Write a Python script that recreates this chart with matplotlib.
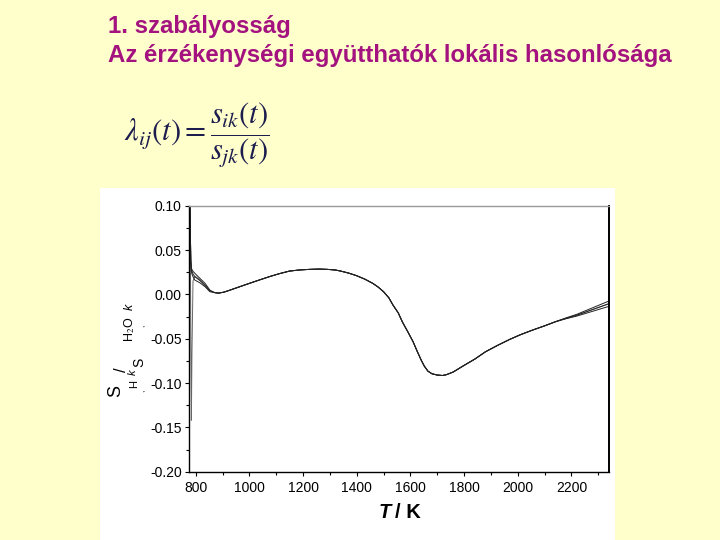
import matplotlib
matplotlib.use('Agg')
import matplotlib.pyplot as plt
from matplotlib.patches import Rectangle
from matplotlib.ticker import MultipleLocator, FormatStrFormatter

##########
# Data
##########

# start of the curves (T < 880 K), where they split apart
T_start = [778, 780, 782, 784, 786, 790, 797, 816, 835, 853]
start_1 = [0.12, 0.06, -0.05, -0.142, -0.07, 0.015, 0.0205, 0.0165, 0.0105, 0.004]
start_2 = [0.12, 0.07, 0.038, 0.030, 0.028, 0.026, 0.0237, 0.018, 0.0124, 0.0048]
start_3 = [0.12, 0.07, 0.038, 0.028, 0.026, 0.023, 0.0199, 0.0155, 0.0100, 0.0040]
start_4 = [0.12, 0.07, 0.038, 0.026, 0.023, 0.020, 0.0161, 0.013, 0.0086, 0.0030]

# common part, all curves lie on top of each other
T_mid = [870, 885, 905, 925, 960, 1000, 1040, 1075, 1110, 1150, 1190, 1225, 1260,
         1290, 1320, 1340, 1370, 1400, 1430, 1460, 1480, 1500, 1520, 1535, 1555,
         1570, 1590, 1610, 1625, 1640, 1652, 1665, 1680, 1700, 1720, 1735, 1760,
         1795, 1840, 1880, 1925, 1970, 2010, 2055, 2100, 2140]
y_mid = [0.0020, 0.0014, 0.0025, 0.0045, 0.0082, 0.0124, 0.0165, 0.0200, 0.0232,
         0.0263, 0.0276, 0.0282, 0.0285, 0.0282, 0.0275, 0.0263, 0.0240, 0.0210,
         0.0172, 0.0124, 0.0082, 0.0030, -0.0040, -0.0120, -0.0210, -0.0310,
         -0.0420, -0.0534, -0.0640, -0.0740, -0.0810, -0.0865, -0.0895, -0.0910,
         -0.0915, -0.0905, -0.0875, -0.0810, -0.0730, -0.0647, -0.0575, -0.0508,
         -0.0455, -0.0403, -0.0355, -0.0309]

# end of the curves, they fan out again
T_end = [2180, 2220, 2280, 2340]
end_1 = [-0.0270, -0.0235, -0.0170, -0.0105]
end_2 = [-0.0265, -0.0225, -0.0150, -0.0075]
end_3 = [-0.0270, -0.0235, -0.0170, -0.0105]
end_4 = [-0.0275, -0.0245, -0.0190, -0.0135]

x_ticks = [800, 1000, 1200, 1400, 1600, 1800, 2000, 2200]

title_1 = '1. szabályosság'
title_2 = 'Az érzékenységi együtthatók lokális hasonlósága'

##########
# Slide
##########

fig = plt.figure(figsize=(7.2, 5.4), dpi=100, facecolor='#FFFFCC')
W, H = 720.0, 540.0

# white panel of the pasted figure
fig.patches.append(Rectangle((100 / W, 0), 515 / W, 352 / H, transform=fig.transFigure,
                             facecolor='white', edgecolor='none', zorder=-5))

fig.text(108 / W, 1 - 33 / H, title_1, color='#A3127F', fontsize=17.3, weight='bold',
         family='Liberation Sans', va='baseline')
fig.text(108 / W, 1 - 62 / H, title_2, color='#A3127F', fontsize=17.3, weight='bold',
         family='Liberation Sans', va='baseline')

plt.rcParams['mathtext.fontset'] = 'stix'
fig.text(124 / W, 1 - 135 / H,
         r'$\lambda_{ij}\left(t\right)=\dfrac{s_{ik}\left(t\right)}{s_{jk}\left(t\right)}$',
         color='#1C1C4E', fontsize=22, va='center')

##########
# Plot
##########

ax = fig.add_axes([188.7 / W, 1 - 471.7 / H, 420.3 / W, 266 / H])
ax.set_facecolor('white')

curves = [(start_1, end_1, '#666666'), (start_2, end_2, '#222222'),
          (start_3, end_3, '#222222'), (start_4, end_4, '#222222')]
for s, e, c in curves:
    ax.plot(T_start + T_mid + T_end, s + y_mid + e, color=c, lw=0.7)

ax.set_xlim(774, 2340)
ax.set_ylim(-0.20, 0.10)
ax.set_xticks(x_ticks)
ax.xaxis.set_minor_locator(MultipleLocator(100))
ax.yaxis.set_major_locator(MultipleLocator(0.05))
ax.yaxis.set_minor_locator(MultipleLocator(0.025))
ax.yaxis.set_major_formatter(FormatStrFormatter('%.2f'))
ax.tick_params(which='both', direction='out', top=False, right=False,
               labelsize=10, colors='black')
ax.tick_params(which='major', length=3, width=0.8)
ax.tick_params(which='minor', length=2, width=0.8)
ax.tick_params(axis='x', pad=3.5)
ax.tick_params(axis='y', pad=2)
for lab in ax.get_xticklabels() + ax.get_yticklabels():
    lab.set_family('Liberation Sans')

for side in ['left', 'bottom']:
    ax.spines[side].set_linewidth(1.0)
ax.spines['right'].set_linewidth(1.4)
ax.spines['top'].set_color('#999999')
ax.spines['top'].set_linewidth(1.0)

# x label: italic T, upright K, both bold
fig.text(379 / W, 1 - 518 / H, 'T', fontsize=14.5, weight='bold', style='italic',
         family='Liberation Sans', va='baseline')
fig.text(395 / W, 1 - 518 / H, '/ K', fontsize=14.5, weight='bold',
         family='Liberation Sans', va='baseline')

# y label, drawn in pieces as in the (garbled) original
ylab = [(116, 391, 'S', 13, 'normal'), (134, 384, 'H', 8, 'normal'),
        (143, 391, ',', 6, 'normal'), (133, 372, 'k', 8, 'italic'),
        (122, 370, '/', 12, 'normal'), (139, 362, 'S', 10, 'normal'),
        (130, 329, 'H$_2$O', 9, 'normal'), (143, 326, ',', 6, 'normal'),
        (130, 307, 'k', 9, 'italic')]
for x, y, s, fs, st in ylab:
    fig.text(x / W, 1 - y / H, s, fontsize=fs, style=st, rotation=90,
             family='Liberation Sans', ha='center', va='center')

fig.savefig('out.png', dpi=100, facecolor=fig.get_facecolor())
